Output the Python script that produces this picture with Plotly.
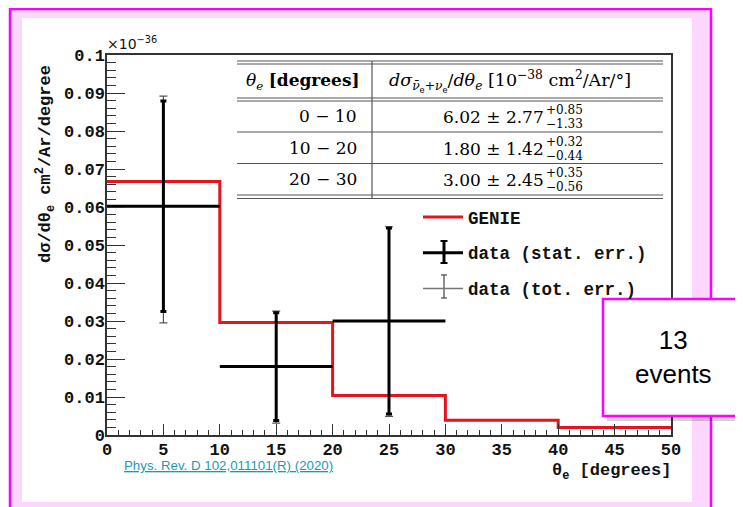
import plotly.graph_objects as go

# ---------------- data ----------------
bin_edges = [0, 10, 20, 30, 40, 50]
genie_xsec = [0.0667, 0.0296, 0.0104, 0.0039, 0.0020]          # x10^-36 cm2/Ar/degree

data_theta = [5, 15, 25]
data_halfwidth = [5, 5, 5]
data_xsec = [0.0602, 0.0180, 0.0300]
data_stat = [0.0277, 0.0142, 0.0245]
data_tot_up = [0.0290, 0.0146, 0.0248]
data_tot_dn = [0.0307, 0.0149, 0.0251]

y_tickvals = [0, 0.01, 0.02, 0.03, 0.04, 0.05, 0.06, 0.07, 0.08, 0.09, 0.1]
y_ticktext = ["0", "0.01", "0.02", "0.03", "0.04", "0.05", "0.06", "0.07", "0.08", "0.09", "0.1"]
x_tickvals = [0, 5, 10, 15, 20, 25, 30, 35, 40, 45, 50]
x_ticktext = ["0", "5", "10", "15", "20", "25", "30", "35", "40", "45", "50"]

table_bins = ["0 − 10", "10 − 20", "20 − 30"]
table_val = ["6.02", "1.80", "3.00"]
table_stat = ["2.77", "1.42", "2.45"]
table_sys_up = ["+0.85", "+0.32", "+0.35"]
table_sys_dn = ["−1.33", "−0.44", "−0.56"]

# ---------------- layout helpers (page pixel -> paper) ----------------
OFF = 8                      # default body margin of the html page
W, H = 743 - OFF, 507 - OFF  # figure size so that it exactly fills the window
L, R, T, B = 107, 671, 55, 435   # plot frame in page pixels


def px(x):
    return (x - L) / (R - L)


def py(y):
    return (B - y) / (B - T)


MONO = "Liberation Mono, Courier New, monospace"
SERIF = "DejaVu Serif, serif"
SANS = "Liberation Sans, Arial, sans-serif"
RED = "#e5131d"

fig = go.Figure()

# GENIE histogram
fig.add_trace(go.Scatter(
    x=bin_edges, y=genie_xsec + [genie_xsec[-1]], mode="lines",
    line=dict(color=RED, width=3, shape="hv"),
    name="GENIE", legendgroup="g1", showlegend=True, hoverinfo="skip"))

# total errors
fig.add_trace(go.Scatter(
    x=data_theta, y=data_xsec, mode="markers",
    marker=dict(size=1, color="#333"),
    error_y=dict(type="data", symmetric=False, array=data_tot_up, arrayminus=data_tot_dn,
                 color="#555", thickness=1.2, width=4),
    showlegend=False, hoverinfo="skip"))

# statistical errors
fig.add_trace(go.Scatter(
    x=data_theta, y=data_xsec, mode="markers",
    marker=dict(size=1, color="black"),
    error_y=dict(type="data", array=data_stat, color="black", thickness=3, width=3),
    error_x=dict(type="data", array=data_halfwidth, color="black", thickness=3, width=0),
    showlegend=False, hoverinfo="skip"))

# legend proxies
fig.add_trace(go.Scatter(x=[None], y=[None], mode="lines", line=dict(color="black", width=3),
                         name="data (stat. err.)", legendgroup="g2"))
fig.add_trace(go.Scatter(x=[None], y=[None], mode="lines", line=dict(color="#777", width=1.5),
                         name="data (tot. err.)", legendgroup="g3"))

shapes = []
# page background: pink frame with magenta border, white picture
shapes.append(dict(type="rect", xref="paper", yref="paper", layer="below",
                   x0=px(10), x1=px(711), y0=py(9), y1=py(520),
                   fillcolor="#fdd6fd", line=dict(color="#ff00ff", width=2.5)))
shapes.append(dict(type="rect", xref="paper", yref="paper", layer="below",
                   x0=px(22), x1=px(692), y0=py(18), y1=py(502),
                   fillcolor="white", line=dict(width=0)))

# table lines
tl, tr = 237, 663
for yy in [61, 64, 98, 101, 132, 163.5, 195, 198.5]:
    shapes.append(dict(type="line", xref="paper", yref="paper", layer="above",
                       x0=px(tl), x1=px(tr), y0=py(yy), y1=py(yy),
                       line=dict(color="#555", width=1.2)))
shapes.append(dict(type="line", xref="paper", yref="paper", layer="above",
                   x0=px(372), x1=px(372), y0=py(61), y1=py(198.5),
                   line=dict(color="#555", width=1.2)))

# legend error-bar glyphs
LX = 444
for (y0, y1, w, c, cw) in [(241, 263, 3, "black", 7), (275, 298, 1.2, "#444", 6)]:
    shapes.append(dict(type="line", xref="paper", yref="paper", layer="above",
                       x0=px(LX), x1=px(LX), y0=py(y0), y1=py(y1), line=dict(color=c, width=w)))
    for yy in (y0, y1):
        shapes.append(dict(type="line", xref="paper", yref="paper", layer="above",
                           x0=px(LX - cw / 2), x1=px(LX + cw / 2), y0=py(yy), y1=py(yy),
                           line=dict(color=c, width=min(w, 2))))

# "13 events" call-out box with shadow
shapes.append(dict(type="rect", xref="paper", yref="paper", layer="above",
                   x0=px(607), x1=px(770), y0=py(303), y1=py(421),
                   fillcolor="rgba(0,0,0,0.18)", line=dict(width=0)))
shapes.append(dict(type="rect", xref="paper", yref="paper", layer="above",
                   x0=px(603), x1=px(766), y0=py(299), y1=py(416),
                   fillcolor="white", line=dict(color="#ff00ff", width=2.5)))

ann = []
# y-axis title
ann.append(dict(xref="paper", yref="paper", x=px(45), y=py(63), xanchor="center", yanchor="top",
                textangle=-90, showarrow=False,
                text="<b>dσ/dθ<sub>e</sub> cm<sup>2</sup>/Ar/degree</b>",
                font=dict(family=MONO, size=17, color="#111")))
# x-axis title
ann.append(dict(xref="paper", yref="paper", x=px(673), y=py(472), xanchor="right", yanchor="middle",
                showarrow=False, text="<b>θ<sub>e</sub> [degrees]</b>",
                font=dict(family=MONO, size=17, color="#111")))
# exponent
ann.append(dict(xref="paper", yref="paper", x=px(105), y=py(54), xanchor="left", yanchor="bottom",
                showarrow=False, text="×10<sup>−36</sup>",
                font=dict(family="DejaVu Sans, sans-serif", size=14, color="#111")))
# reference link
ann.append(dict(xref="paper", yref="paper", x=px(122), y=py(466), xanchor="left", yanchor="middle",
                showarrow=False, text="<u>Phys. Rev. D 102,011101(R) (2020)</u>",
                font=dict(family=SANS, size=13.3, color="#1b9ab3")))
# call-out text
ann.append(dict(xref="paper", yref="paper", x=px(673), y=py(357), xanchor="center", yanchor="middle",
                showarrow=False, text="13<br>events",
                font=dict(family=SANS, size=26, color="black")))

# table header
ann.append(dict(xref="paper", yref="paper", x=px(303), y=py(81), xanchor="center", yanchor="middle",
                showarrow=False, text="<i>θ</i><sub><i>e</i></sub> <b>[degrees]</b>",
                font=dict(family=SERIF, size=17, color="black")))
ann.append(dict(xref="paper", yref="paper", x=px(510), y=py(81), xanchor="center", yanchor="middle",
                showarrow=False,
                text="<i>dσ</i><sub><i>ν̄</i><sub>e</sub>+<i>ν</i><sub>e</sub></sub>/<i>dθ</i><sub><i>e</i></sub>"
                     " [10<sup>−38</sup> cm<sup>2</sup>/Ar/°]",
                font=dict(family=SERIF, size=17.5, color="black")))
row_y = [116, 148, 179]
for i in range(len(table_bins)):
    ann.append(dict(xref="paper", yref="paper", x=px(359), y=py(row_y[i]), xanchor="right",
                    yanchor="middle", showarrow=False, text=table_bins[i],
                    font=dict(family=SERIF, size=17, color="black")))
    ann.append(dict(xref="paper", yref="paper", x=px(546), y=py(row_y[i] + 1), xanchor="right",
                    yanchor="middle", showarrow=False,
                    text=f"{table_val[i]} ± {table_stat[i]}",
                    font=dict(family=SERIF, size=17, color="black")))
    ann.append(dict(xref="paper", yref="paper", x=px(544), y=py(row_y[i] - 6), xanchor="left",
                    yanchor="middle", showarrow=False, text=table_sys_up[i],
                    font=dict(family=SERIF, size=12, color="black")))
    ann.append(dict(xref="paper", yref="paper", x=px(544), y=py(row_y[i] + 8), xanchor="left",
                    yanchor="middle", showarrow=False, text=table_sys_dn[i],
                    font=dict(family=SERIF, size=12, color="black")))

fig.update_layout(
    width=W, height=H,
    margin=dict(l=L - OFF, r=W - (R - OFF), t=T - OFF, b=H - (B - OFF), pad=0),
    paper_bgcolor="white", plot_bgcolor="rgba(0,0,0,0)",
    shapes=shapes, annotations=ann,
    legend=dict(x=px(418), y=py(199), xanchor="left", yanchor="top",
                bgcolor="rgba(0,0,0,0)", tracegroupgap=10, itemwidth=40,
                font=dict(family=MONO, size=17.5, color="#111", weight="bold")),
    xaxis=dict(range=[0, 50], tickmode="array", tickvals=x_tickvals, ticktext=x_ticktext,
               ticks="inside", ticklen=11, tickwidth=1.2, tickcolor="#333",
               minor=dict(tickmode="linear", tick0=0, dtick=1, ticks="inside", ticklen=5,
                          tickwidth=1, tickcolor="#333"),
               showline=True, mirror=True, linecolor="#333", linewidth=1.5,
               showgrid=False, zeroline=False,
               tickfont=dict(family=MONO, size=17, color="#111", weight="bold")),
    yaxis=dict(range=[0, 0.1], tickmode="array", tickvals=y_tickvals, ticktext=y_ticktext,
               ticks="inside", ticklen=18, tickwidth=1.2, tickcolor="#333",
               minor=dict(tickmode="linear", tick0=0, dtick=0.002, ticks="inside", ticklen=9,
                          tickwidth=1, tickcolor="#333"),
               showline=True, mirror=True, linecolor="#333", linewidth=1.5,
               showgrid=False, zeroline=False,
               tickfont=dict(family=MONO, size=17, color="#111", weight="bold")),
)

try:
    fig.update_xaxes(ticklabelstandoff=-2)
    fig.update_yaxes(ticklabelstandoff=-3)
except Exception:
    pass

fig.write_html("out.html")
